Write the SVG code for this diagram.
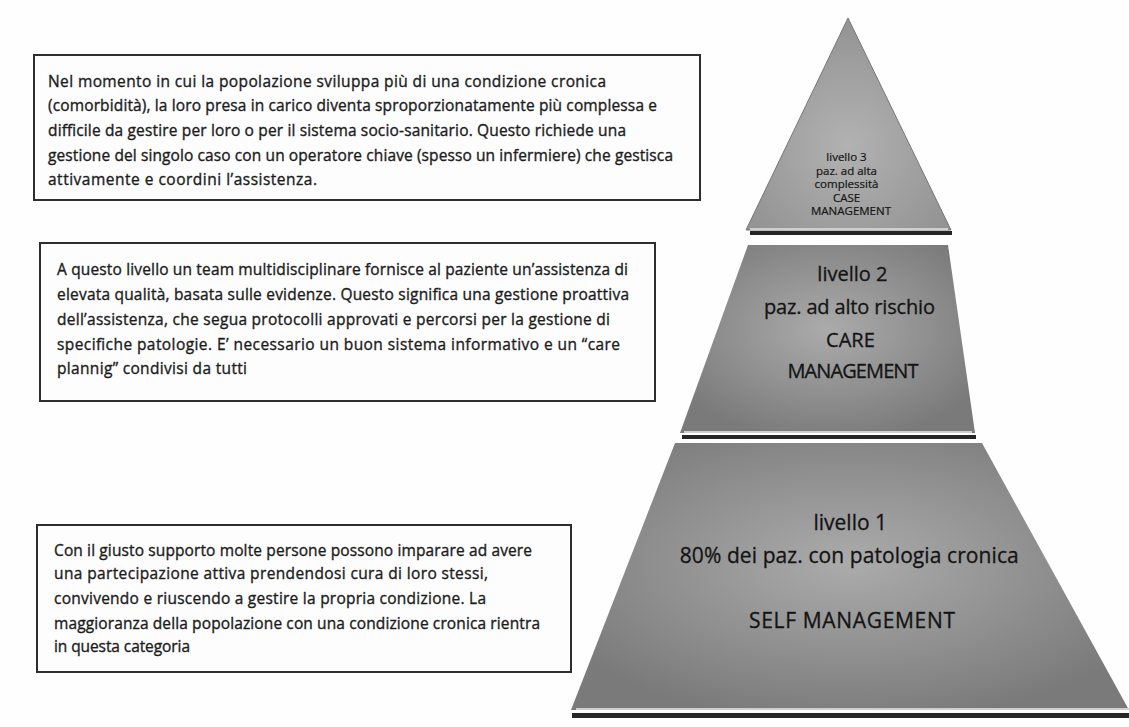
<svg xmlns="http://www.w3.org/2000/svg" width="1129" height="727" viewBox="0 0 1129 727">
  <style>
    .box { fill: #fdfdfd; stroke: #2e2e2e; stroke-width: 2; }
    .desc { font-family: "Open Sans", Lato, "Liberation Sans", sans-serif; font-size: 15.5px; fill: #1c1c1c; stroke: #1c1c1c; stroke-width: 0.35; }
    .lvl { font-family: "Open Sans", Lato, "Liberation Sans", sans-serif; fill: #141414; stroke: #141414; stroke-width: 0.3; text-anchor: middle; }
    .big { font-size: 20px; }
    .small { font-size: 11.5px; stroke-width: 0.2; }
    .rim { fill: #cfcfcf; }
    .shadow { fill: #262626; }
  </style>
  <defs>
    <radialGradient id="tierFill" cx="0.5" cy="0.45" r="0.6">
      <stop offset="0" stop-color="#ababab"/>
      <stop offset="0.6" stop-color="#8e8e8e"/>
      <stop offset="1" stop-color="#7a7a7a"/>
    </radialGradient>
    <radialGradient id="apexFill" cx="0.5" cy="0.6" r="0.6">
      <stop offset="0" stop-color="#b2b2b2"/>
      <stop offset="1" stop-color="#939393"/>
    </radialGradient>
  </defs>

  <rect width="1129" height="727" fill="#fefefe"/>

  <!-- description boxes -->
  <g id="desc-level3">
    <rect class="box" x="34" y="55" width="666" height="145"/>
    <text class="desc" lengthAdjust="spacingAndGlyphs">
      <tspan x="48" y="87" textLength="558">Nel momento in cui la popolazione sviluppa più di una condizione cronica</tspan>
      <tspan x="48" y="111" textLength="609">(comorbidità), la loro presa in carico diventa sproporzionatamente più complessa e</tspan>
      <tspan x="48" y="136" textLength="578">difficile da gestire per loro o per il sistema socio-sanitario. Questo richiede una</tspan>
      <tspan x="48" y="161" textLength="625">gestione del singolo caso con un operatore chiave (spesso un infermiere) che gestisca</tspan>
      <tspan x="48" y="185" textLength="269">attivamente e coordini l’assistenza.</tspan>
    </text>
  </g>

  <g id="desc-level2">
    <rect class="box" x="40" y="243" width="615" height="158"/>
    <text class="desc" lengthAdjust="spacingAndGlyphs">
      <tspan x="57" y="275" textLength="571">A questo livello un team multidisciplinare fornisce al paziente un’assistenza di</tspan>
      <tspan x="57" y="300" textLength="572">elevata qualità, basata sulle evidenze. Questo significa una gestione proattiva</tspan>
      <tspan x="57" y="325" textLength="553">dell’assistenza, che segua protocolli approvati e percorsi per la gestione di</tspan>
      <tspan x="57" y="350" textLength="563">specifiche patologie. E’ necessario  un buon sistema informativo e un “care</tspan>
      <tspan x="57" y="374" textLength="190">plannig” condivisi  da tutti</tspan>
    </text>
  </g>

  <g id="desc-level1">
    <rect class="box" x="37" y="525" width="534" height="147"/>
    <text class="desc" lengthAdjust="spacingAndGlyphs">
      <tspan x="54" y="556" textLength="478">Con il giusto supporto molte persone possono imparare ad avere</tspan>
      <tspan x="54" y="579" textLength="434">una partecipazione attiva prendendosi cura di loro stessi,</tspan>
      <tspan x="54" y="604" textLength="432">convivendo e riuscendo a gestire la propria condizione. La</tspan>
      <tspan x="54" y="629" textLength="486">maggioranza della popolazione con una condizione cronica rientra</tspan>
      <tspan x="54" y="652" textLength="136">in questa categoria</tspan>
    </text>
  </g>

  <!-- pyramid tiers, top to bottom -->
  <g id="tier-level3">
    <polygon class="shadow" points="750,231 952,231 952,235 750,235"/>
    <polygon fill="url(#apexFill)" stroke="#777" stroke-width="1" points="848,18 951,230 746,230"/>
    <rect class="rim" x="750" y="228" width="198" height="2"/>
    <text class="lvl small">
      <tspan x="848" y="161">livello 3</tspan>
      <tspan x="848" y="175">paz. ad alta</tspan>
      <tspan x="848" y="188">complessità</tspan>
      <tspan x="848" y="202">CASE</tspan>
      <tspan x="851" y="215">MANAGEMENT</tspan>
    </text>
  </g>

  <g id="tier-level2">
    <polygon class="shadow" points="682,435 976,435 976,439 682,439"/>
    <polygon fill="url(#tierFill)" points="748,245 948,245 975,433 680,433"/>
    <rect class="rim" x="684" y="431" width="288" height="2"/>
    <text class="lvl big" lengthAdjust="spacingAndGlyphs">
      <tspan x="855" y="281">livello 2</tspan>
      <tspan x="852" y="314" textLength="171">paz. ad alto rischio</tspan>
      <tspan x="853" y="347">CARE</tspan>
      <tspan x="853" y="378" textLength="131">MANAGEMENT</tspan>
    </text>
  </g>

  <g id="tier-level1">
    <polygon class="shadow" points="572,713 1129,713 1129,718 572,718"/>
    <polygon fill="url(#tierFill)" points="675,443 982,443 1129,710 571,710"/>
    <rect class="rim" x="576" y="708" width="553" height="2"/>
    <text class="lvl big" lengthAdjust="spacingAndGlyphs" style="font-size:21px">
      <tspan x="853" y="530">livello 1</tspan>
      <tspan x="852" y="563" textLength="339">80% dei paz. con patologia cronica</tspan>
      <tspan x="852" y="628" textLength="206">SELF MANAGEMENT</tspan>
    </text>
  </g>
</svg>
